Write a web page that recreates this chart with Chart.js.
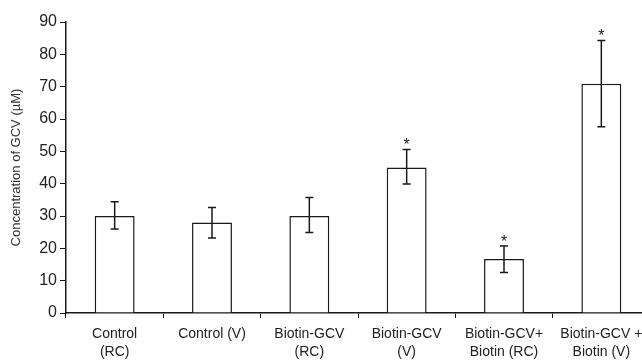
<!DOCTYPE html>
<html>
<head>
<meta charset="utf-8">
<script src="https://cdn.jsdelivr.net/npm/chart.js@4/dist/chart.umd.min.js"></script>
<style>
  html, body { margin: 0; padding: 0; background: #fff; overflow: hidden; }
  #wrap { width: 652px; height: 360px; }
</style>
</head>
<body>
<div id="wrap"><canvas id="myChart" width="652" height="360"></canvas></div>
<script>
// datos
const groups = [
    ['Control', '(RC)'],
    'Control (V)',
    ['Biotin-GCV', '(RC)'],
    ['Biotin-GCV', '(V)'],
    ['Biotin-GCV+', 'Biotin (RC)'],
    ['Biotin-GCV +', 'Biotin (V)']
];
const meanGCV = [30, 28, 30, 45, 16.7, 70.9];
const errHigh = [34.4, 32.6, 35.7, 50.6, 20.7, 84.3];
const errLow = [26.0, 23.2, 24.9, 39.9, 12.5, 57.6];
const significant = [false, false, false, true, true, true];
const yTicks = [0, 10, 20, 30, 40, 50, 60, 70, 80, 90];

const ink = '#1a1a1a';

// barras de error y asteriscos
const errorBars = {
    id: 'errorBars',
    afterDatasetsDraw(chart) {
        const ctx = chart.ctx;
        const x = chart.scales.x;
        const y = chart.scales.y;
        ctx.save();
        ctx.strokeStyle = ink;
        ctx.lineWidth = 1.5;
        for (let i = 0; i < meanGCV.length; i++) {
            const cx = x.getPixelForValue(i);
            const yt = y.getPixelForValue(errHigh[i]);
            const yb = y.getPixelForValue(errLow[i]);
            ctx.beginPath();
            ctx.moveTo(cx, yt); ctx.lineTo(cx, yb);
            ctx.moveTo(cx - 4, yt); ctx.lineTo(cx + 4, yt);
            ctx.moveTo(cx - 4, yb); ctx.lineTo(cx + 4, yb);
            ctx.stroke();
            if (significant[i]) {
                ctx.fillStyle = ink;
                ctx.font = '16px "Liberation Sans", Arial, sans-serif';
                ctx.textAlign = 'center';
                ctx.textBaseline = 'alphabetic';
                ctx.fillText('*', cx, yt + 1);
            }
        }
        ctx.restore();
    }
};

new Chart(document.getElementById('myChart').getContext('2d'), {
    type: 'bar',
    data: {
        labels: groups,
        datasets: [{
            data: meanGCV,
            backgroundColor: '#ffffff',
            borderColor: ink,
            borderWidth: 1.5,
            categoryPercentage: 1,
            barPercentage: 0.41
        }]
    },
    options: {
        responsive: false,
        animation: false,
        layout: { padding: { top: 22, right: 2, left: 0, bottom: 0 } },
        plugins: { legend: { display: false }, tooltip: { enabled: false } },
        scales: {
            x: {
                grid: { display: true, drawOnChartArea: false, color: ink, tickLength: 5, offset: true },
                border: { display: true, color: ink, width: 1.5 },
                ticks: {
                    color: '#222',
                    maxRotation: 0,
                    autoSkip: false,
                    padding: 7,
                    font: { family: '"Liberation Sans", Arial, sans-serif', size: 14, lineHeight: 1.3 }
                },
                afterFit: (scale) => { scale.height = 47; }
            },
            y: {
                min: 0,
                max: 90,
                afterBuildTicks: (scale) => { scale.ticks = yTicks.map(v => ({ value: v })); },
                grid: { display: true, drawOnChartArea: false, color: ink, tickLength: 6 },
                border: { display: true, color: ink, width: 1.5 },
                ticks: {
                    color: '#222',
                    padding: 3,
                    font: { family: '"Liberation Sans", Arial, sans-serif', size: 16 }
                },
                title: {
                    display: true,
                    text: 'Concentration of GCV (\u00b5M)',
                    color: '#333',
                    padding: { top: 9, bottom: 4 },
                    font: { family: '"Liberation Sans", Arial, sans-serif', size: 13 }
                },
                afterFit: (scale) => { scale.width = 66; }
            }
        }
    },
    plugins: [errorBars]
});
</script>
</body>
</html>
